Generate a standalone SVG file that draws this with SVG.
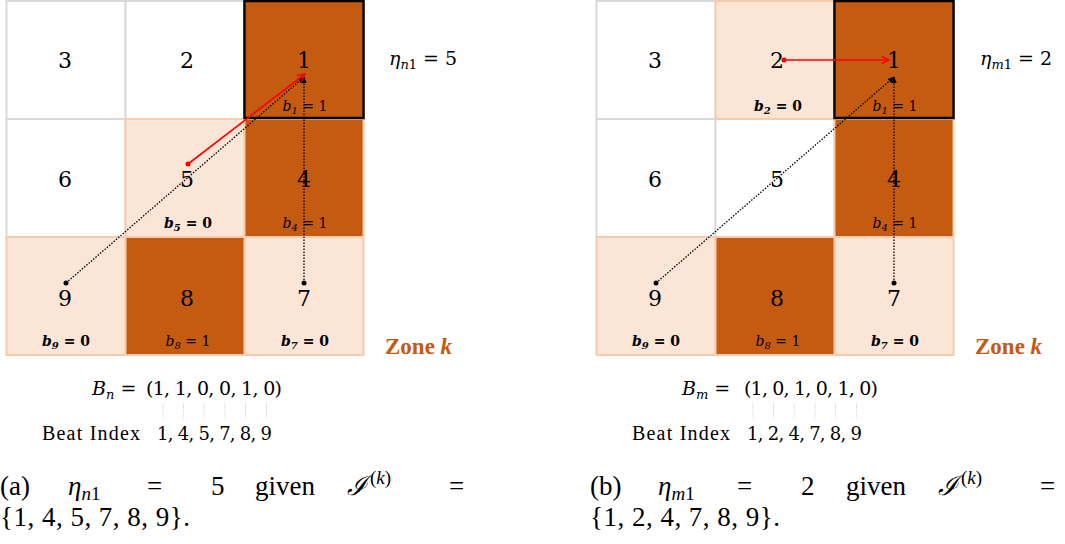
<svg xmlns="http://www.w3.org/2000/svg" width="1065" height="544" viewBox="0 0 1065 544">
<style>
text{font-family:"Liberation Serif","DejaVu Serif",serif;fill:#000}
.m{font-family:"DejaVu Serif","Liberation Serif",serif}
.w{fill:#fff;stroke:#d9d9d9;stroke-width:2}
.p{fill:#fbe5d6;stroke:#f8cbad;stroke-width:2}
.d{fill:#c55a11;stroke:#f8cbad;stroke-width:2}
.sel{fill:none;stroke:#000;stroke-width:2.5}
.num{font-size:22px;text-anchor:middle}
.b{font-size:14px;text-anchor:middle;font-style:italic;fill:#000}
.bb{font-size:14px;text-anchor:middle;font-weight:bold;font-style:italic}
.eta{font-size:19px}
.zone{font-size:23px;font-weight:bold;fill:#c55a11}
.vec{font-size:19px}
.idx{font-size:20px}
.idn{font-size:18px}
.cap{font-size:27px}
.red{stroke:#ff0000;stroke-width:1.6;fill:none}
.dot{stroke:#000;stroke-width:1.3;stroke-dasharray:1.5 1.5;fill:none}
.tick{stroke:#c8c8c8;stroke-width:0.8;stroke-dasharray:1 1}
</style>
<defs>
<marker id="ra" viewBox="0 0 10 10" refX="9" refY="5" markerWidth="9" markerHeight="9" markerUnits="userSpaceOnUse" orient="auto"><path d="M1,1 L9,5 L1,9" fill="none" stroke="#ff0000" stroke-width="1.6"/></marker>
<marker id="ba" viewBox="0 0 10 10" refX="9" refY="5" markerWidth="7" markerHeight="7" markerUnits="userSpaceOnUse" orient="auto"><path d="M0,1 L10,5 L0,9 Z" fill="#000"/></marker>
</defs>

<!-- Panel (a) -->
<g id="a-cell3"><rect class="w" x="6.5" y="1" width="119" height="118"/><text class="num m" x="65" y="68">3</text></g>
<g id="a-cell2"><rect class="w" x="125.5" y="1" width="119" height="118"/><text class="num m" x="187" y="68">2</text></g>
<g id="a-cell6"><rect class="w" x="6.5" y="119" width="119" height="118"/><text class="num m" x="65" y="187">6</text></g>
<g id="a-cell9"><rect class="p" x="6.5" y="237" width="119" height="118"/><text class="num m" x="65" y="306">9</text><text class="bb m" x="66" y="346">b<tspan font-size="10" dy="3">9</tspan><tspan dy="-3" font-style="normal"> = 0</tspan></text></g>
<g id="a-cell5"><rect class="p" x="125.5" y="119" width="119" height="118"/><text class="num m" x="187" y="187">5</text><text class="bb m" x="188" y="228">b<tspan font-size="10" dy="3">5</tspan><tspan dy="-3" font-style="normal"> = 0</tspan></text></g>
<g id="a-cell7"><rect class="p" x="244.5" y="237" width="119" height="118"/><text class="num m" x="304" y="306">7</text><text class="bb m" x="305" y="346">b<tspan font-size="10" dy="3">7</tspan><tspan dy="-3" font-style="normal"> = 0</tspan></text></g>
<g id="a-cell8"><rect class="d" x="125.5" y="237" width="119" height="118"/><text class="num m" x="187" y="306">8</text><text class="b m" x="188" y="346">b<tspan font-size="10" dy="3">8</tspan><tspan dy="-3" font-style="normal"> = 1</tspan></text></g>
<g id="a-cell4"><rect class="d" x="244.5" y="119" width="119" height="118"/><text class="num m" x="304" y="187">4</text><text class="b m" x="305" y="228">b<tspan font-size="10" dy="3">4</tspan><tspan dy="-3" font-style="normal"> = 1</tspan></text></g>
<g id="a-cell1"><rect class="d" x="244.5" y="1" width="119" height="118"/><rect class="sel" x="244.5" y="1" width="119" height="117"/><text class="num m" x="304" y="68">1</text><text class="b m" x="305" y="111">b<tspan font-size="10" dy="3">1</tspan><tspan dy="-3" font-style="normal"> = 1</tspan></text></g>

<g id="a-labels">
<text class="eta m" x="389" y="65"><tspan font-style="italic">η</tspan><tspan font-size="13" dy="4"><tspan font-style="italic">n</tspan>1</tspan><tspan dy="-4"> = 5</tspan></text>
<text class="zone" x="385" y="354">Zone <tspan font-style="italic">k</tspan></text>
<text class="vec m" x="92" y="395"><tspan font-style="italic">B</tspan><tspan font-size="13" font-style="italic" dy="4">n</tspan><tspan dy="-4"> = </tspan><tspan x="146" textLength="136" lengthAdjust="spacing">(1, 1, 0, 0, 1, 0)</tspan></text>
<text class="idx" x="42" y="440" textLength="98" lengthAdjust="spacing">Beat Index</text>
<text class="idn m" x="157" y="440" textLength="115" lengthAdjust="spacing">1, 4, 5, 7, 8, 9</text>
</g>
<g id="a-ticks">
<path class="tick" d="M163,403V418M183.5,403V418M204,403V418M225,403V418M245.5,403V418M266.5,403V418"/>
</g>
<g id="a-caption">
<text class="cap" x="0" y="495">(a)</text>
<text class="cap" x="68" y="495"><tspan font-style="italic">η</tspan><tspan font-size="19" dy="5"><tspan font-style="italic">n</tspan>1</tspan></text>
<text class="cap" x="147" y="495">=</text>
<text class="cap" x="211" y="495">5</text>
<text class="cap" x="255" y="495">given</text>
<text class="cap" x="347" y="495"><tspan font-style="italic">ℐ</tspan><tspan font-size="19" dx="3" dy="-11">(<tspan font-style="italic">k</tspan>)</tspan></text>
<text class="cap" x="449" y="495">=</text>
<text class="cap" x="0" y="526" textLength="190" lengthAdjust="spacing">{1, 4, 5, 7, 8, 9}.</text>
</g>

<!-- Panel (b) -->
<g id="b-cell3"><rect class="w" x="596.5" y="1" width="119" height="118"/><text class="num m" x="655" y="68">3</text></g>
<g id="b-cell6"><rect class="w" x="596.5" y="119" width="119" height="118"/><text class="num m" x="655" y="187">6</text></g>
<g id="b-cell5"><rect class="w" x="715.5" y="119" width="119" height="118"/><text class="num m" x="777" y="187">5</text></g>
<g id="b-cell2"><rect class="p" x="715.5" y="1" width="119" height="118"/><text class="num m" x="777" y="68">2</text><text class="bb m" x="778" y="111">b<tspan font-size="10" dy="3">2</tspan><tspan dy="-3" font-style="normal"> = 0</tspan></text></g>
<g id="b-cell9"><rect class="p" x="596.5" y="237" width="119" height="118"/><text class="num m" x="655" y="306">9</text><text class="bb m" x="656" y="346">b<tspan font-size="10" dy="3">9</tspan><tspan dy="-3" font-style="normal"> = 0</tspan></text></g>
<g id="b-cell7"><rect class="p" x="834.5" y="237" width="119" height="118"/><text class="num m" x="894" y="306">7</text><text class="bb m" x="895" y="346">b<tspan font-size="10" dy="3">7</tspan><tspan dy="-3" font-style="normal"> = 0</tspan></text></g>
<g id="b-cell8"><rect class="d" x="715.5" y="237" width="119" height="118"/><text class="num m" x="777" y="306">8</text><text class="b m" x="778" y="346">b<tspan font-size="10" dy="3">8</tspan><tspan dy="-3" font-style="normal"> = 1</tspan></text></g>
<g id="b-cell4"><rect class="d" x="834.5" y="119" width="119" height="118"/><text class="num m" x="894" y="187">4</text><text class="b m" x="895" y="228">b<tspan font-size="10" dy="3">4</tspan><tspan dy="-3" font-style="normal"> = 1</tspan></text></g>
<g id="b-cell1"><rect class="d" x="834.5" y="1" width="119" height="118"/><rect class="sel" x="834.5" y="1" width="119" height="117"/><text class="num m" x="894" y="68">1</text><text class="b m" x="895" y="111">b<tspan font-size="10" dy="3">1</tspan><tspan dy="-3" font-style="normal"> = 1</tspan></text></g>

<g id="b-labels">
<text class="eta m" x="980" y="65"><tspan font-style="italic">η</tspan><tspan font-size="13" dy="4"><tspan font-style="italic">m</tspan>1</tspan><tspan dy="-4"> = 2</tspan></text>
<text class="zone" x="975" y="354">Zone <tspan font-style="italic">k</tspan></text>
<text class="vec m" x="682" y="395"><tspan font-style="italic">B</tspan><tspan font-size="13" font-style="italic" dy="4">m</tspan><tspan dy="-4"> = </tspan><tspan x="744" textLength="134" lengthAdjust="spacing">(1, 0, 1, 0, 1, 0)</tspan></text>
<text class="idx" x="632" y="440" textLength="98" lengthAdjust="spacing">Beat Index</text>
<text class="idn m" x="747" y="440" textLength="115" lengthAdjust="spacing">1, 2, 4, 7, 8, 9</text>
</g>
<g id="b-ticks">
<path class="tick" d="M753,403V418M773.5,403V418M794,403V418M815,403V418M835.5,403V418M856.5,403V418"/>
</g>
<g id="b-caption">
<text class="cap" x="590" y="495">(b)</text>
<text class="cap" x="658" y="495"><tspan font-style="italic">η</tspan><tspan font-size="19" dy="5"><tspan font-style="italic">m</tspan>1</tspan></text>
<text class="cap" x="737" y="495">=</text>
<text class="cap" x="801" y="495">2</text>
<text class="cap" x="846" y="495">given</text>
<text class="cap" x="938" y="495"><tspan font-style="italic">ℐ</tspan><tspan font-size="19" dx="3" dy="-11">(<tspan font-style="italic">k</tspan>)</tspan></text>
<text class="cap" x="1040" y="495">=</text>
<text class="cap" x="590" y="526" textLength="190" lengthAdjust="spacing">{1, 2, 4, 7, 8, 9}.</text>
</g>

<!-- Connectors -->
<g id="connectors">
<path class="dot" d="M66,283 L304,77" marker-end="url(#ba)"/>
<circle cx="66" cy="283" r="2.5" fill="#000"/>
<path class="dot" d="M304,283 L304,77" marker-end="url(#ba)"/>
<circle cx="304" cy="283" r="2.5" fill="#000"/>
<path class="red" d="M188,164 L305,74" marker-end="url(#ra)"/>
<circle cx="188" cy="164" r="2.5" fill="#ff0000"/>

<path class="dot" d="M656,283 L894,77" marker-end="url(#ba)"/>
<circle cx="656" cy="283" r="2.5" fill="#000"/>
<path class="dot" d="M894,283 L894,77" marker-end="url(#ba)"/>
<circle cx="894" cy="283" r="2.5" fill="#000"/>
<path class="red" d="M784,60 L889,60" marker-end="url(#ra)"/>
<circle cx="784" cy="60" r="2.5" fill="#ff0000"/>
</g>
</svg>
